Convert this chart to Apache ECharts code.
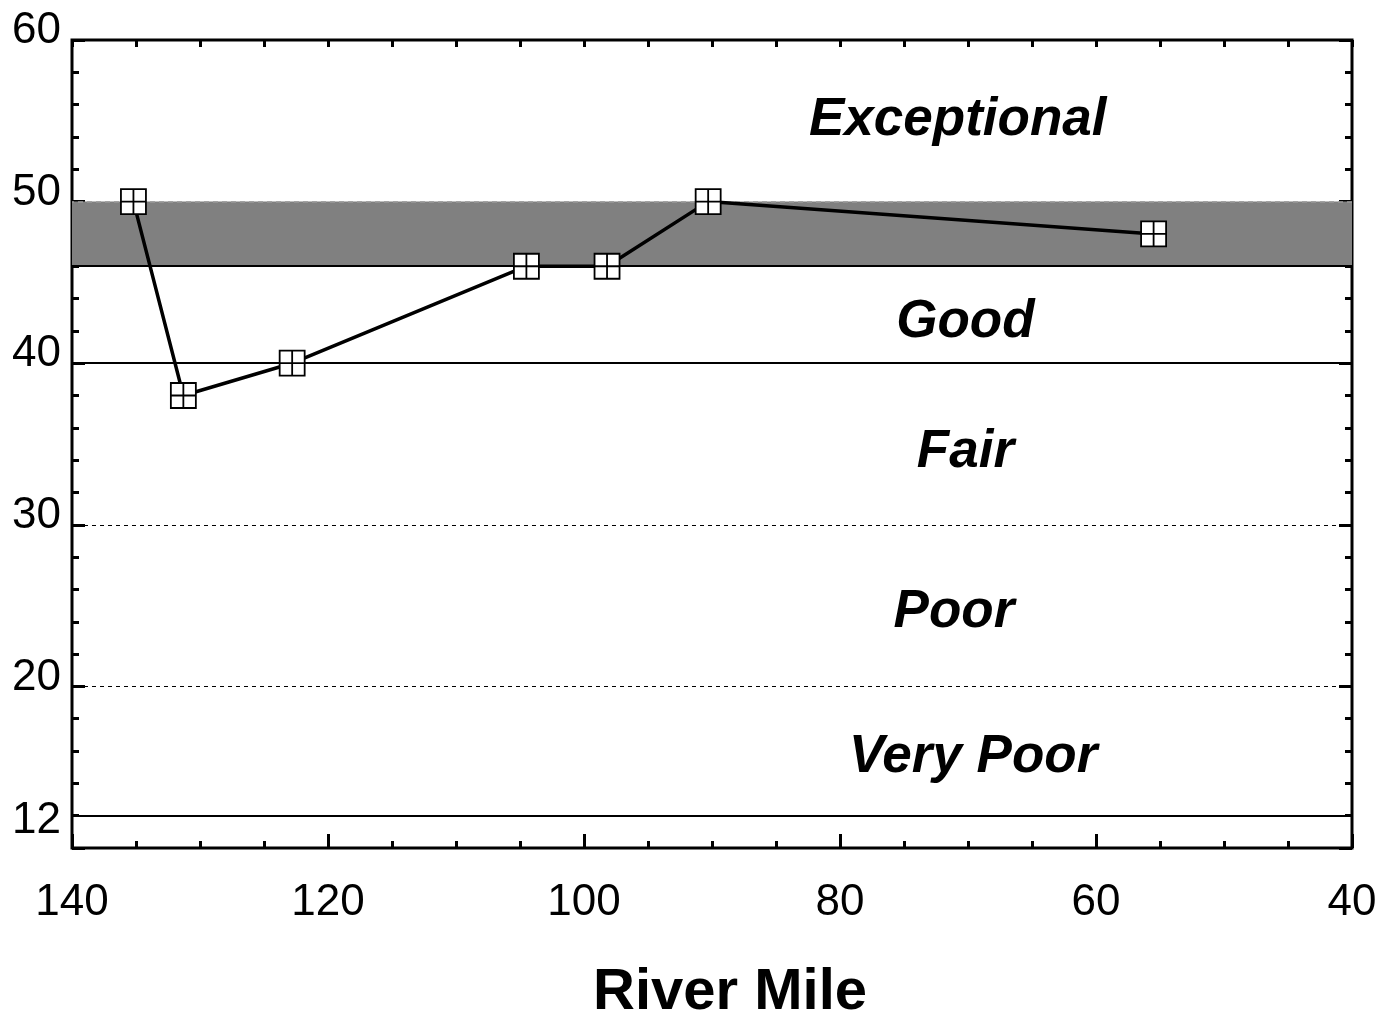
<!DOCTYPE html>
<html><head><meta charset="utf-8">
<script src="https://cdn.jsdelivr.net/npm/echarts@6/dist/echarts.min.js"></script>
<style>html,body{margin:0;padding:0;background:#fff}#c{width:1389px;height:1027px}</style>
</head><body><div id="c"></div>
<script>
const riverMile = [135.2, 131.3, 122.8, 104.5, 98.2, 90.3, 55.5];
const score = [50, 38, 40, 46, 46, 50, 48];
const yTickLabels = [12, 20, 30, 40, 50, 60];
const zoneNames = ['Exceptional', 'Good', 'Fair', 'Poor', 'Very Poor'];
const zoneMile = [70.8, 70.2, 70.2, 71.1, 69.6];
const zoneScore = [55, 42.5, 34.5, 24.6, 15.6];
const bandLow = 46, bandHigh = 50;
const solidLines = [40, 12];
const dashedLines = [30, 20];

const FONT = '"Liberation Sans", Arial, sans-serif';
const chart = echarts.init(document.getElementById('c'), null, {renderer: 'canvas'});
const marker = 'path://M0,0H20V20H0Z M10,0V20 M0,10H20';

chart.setOption({
  animation: false,
  backgroundColor: '#fff',
  grid: {left: 72, top: 40, right: 37, bottom: 179, show: true, borderColor: '#000', borderWidth: 3, backgroundColor: 'transparent'},
  xAxis: [
    {type: 'value', position: 'bottom', inverse: true, min: 40, max: 140, interval: 20,
     axisLine: {show: false}, splitLine: {show: false},
     axisTick: {show: true, inside: true, length: 14, lineStyle: {color: '#000', width: 3}},
     minorTick: {show: true, splitNumber: 4, length: 7, lineStyle: {color: '#000', width: 3}},
     axisLabel: {color: '#000', fontSize: 44, fontFamily: FONT, margin: 33},
     name: 'River Mile', nameLocation: 'middle', nameGap: 116,
     nameTextStyle: {color: '#000', fontSize: 58, fontWeight: 'bold', fontFamily: FONT, padding: [0, 0, 0, 36]}},
    {type: 'value', position: 'top', inverse: true, min: 40, max: 140, interval: 5,
     axisLine: {show: false}, splitLine: {show: false}, axisLabel: {show: false},
     axisTick: {show: true, inside: true, length: 7, lineStyle: {color: '#000', width: 3}}}
  ],
  yAxis: [
    {type: 'value', position: 'left', min: 10, max: 60, interval: 10,
     axisLine: {show: false}, splitLine: {show: false}, axisLabel: {show: false},
     axisTick: {show: true, inside: true, length: 13, lineStyle: {color: '#000', width: 3}},
     minorTick: {show: true, splitNumber: 5, length: 7, lineStyle: {color: '#000', width: 3}}},
    {type: 'value', position: 'left', min: 10, max: 60, interval: 2,
     axisLine: {show: false}, splitLine: {show: false}, axisTick: {show: false},
     axisLabel: {show: true, margin: 11, color: '#000', fontSize: 44, fontFamily: FONT,
       formatter: v => yTickLabels.indexOf(v) < 0 ? '' : (v === 12 ? '{dn|' + v + '}' : '{up|' + v + '}'),
       rich: {up: {fontSize: 44, fontFamily: FONT, color: '#000', padding: [0, 0, 18, 0]},
              dn: {fontSize: 44, fontFamily: FONT, color: '#000', padding: [10, 0, 0, 0]}}}},
    {type: 'value', position: 'right', min: 10, max: 60, interval: 10,
     axisLine: {show: false}, splitLine: {show: false}, axisLabel: {show: false},
     axisTick: {show: true, inside: true, length: 13, lineStyle: {color: '#000', width: 3}},
     minorTick: {show: true, splitNumber: 5, length: 7, lineStyle: {color: '#000', width: 3}}}
  ],
  series: [
    {type: 'line', xAxisIndex: 0, yAxisIndex: 0, data: [], silent: true, z: 1,
     markArea: {silent: true, itemStyle: {color: '#808080', opacity: 1}, data: [[{yAxis: bandLow}, {yAxis: bandHigh}]]},
     markLine: {silent: true, symbol: 'none', label: {show: false},
       data: [
         ...solidLines.map(v => ({yAxis: v, lineStyle: {color: '#000', width: 2, type: 'solid'}})),
         ...dashedLines.map(v => ({yAxis: v, lineStyle: {color: '#000', width: 1, type: [4, 4]}})),
         {yAxis: bandLow, lineStyle: {color: '#000', width: 2, type: 'solid'}},
         {yAxis: bandHigh, lineStyle: {color: '#999', width: 1.5, type: [5, 4]}}
       ]}},
    {type: 'line', xAxisIndex: 0, yAxisIndex: 0, z: 5,
     data: riverMile.map((m, i) => [m, score[i]]),
     symbol: marker, symbolSize: 25, showAllSymbol: true,
     lineStyle: {color: '#000', width: 3.5},
     itemStyle: {color: '#fff', borderColor: '#000', borderWidth: 1.8}},
    {type: 'scatter', xAxisIndex: 0, yAxisIndex: 0, z: 6, symbolSize: 0, silent: true,
     itemStyle: {opacity: 1},
     data: zoneNames.map((n, i) => ({value: [zoneMile[i], zoneScore[i]], name: n})),
     label: {show: true, position: 'inside', formatter: p => p.name, color: '#000', opacity: 1,
       fontSize: 53, fontWeight: 'bold', fontStyle: 'italic', fontFamily: FONT}}
  ]
});
</script></body></html>
